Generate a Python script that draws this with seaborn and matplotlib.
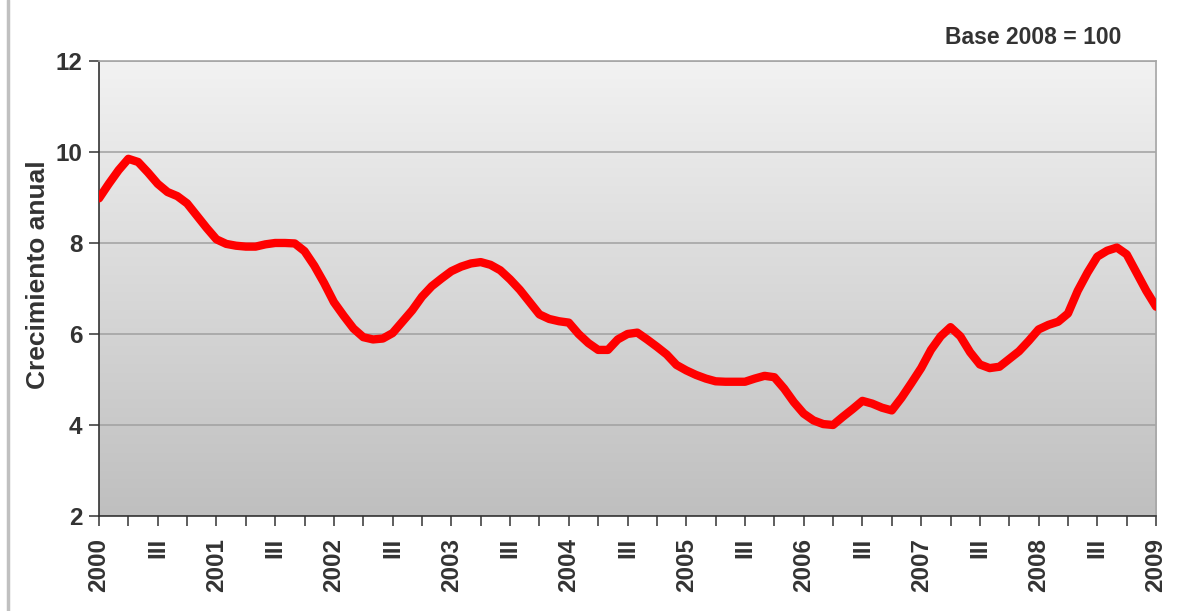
import numpy as np
import pandas as pd
import matplotlib
matplotlib.use("Agg")
import matplotlib.pyplot as plt
import seaborn as sns
from matplotlib.lines import Line2D

# Monthly annual growth rate (%), January 2000 to January 2009
y2000 = [8.98, 9.30, 9.60, 9.85, 9.78, 9.55, 9.30, 9.12, 9.03, 8.87, 8.60, 8.33]
y2001 = [8.08, 7.98, 7.94, 7.92, 7.92, 7.97, 8.00, 8.00, 7.99, 7.82, 7.50, 7.12]
y2002 = [6.70, 6.40, 6.12, 5.93, 5.88, 5.90, 6.02, 6.27, 6.52, 6.82, 7.05, 7.22]
y2003 = [7.38, 7.48, 7.55, 7.58, 7.52, 7.40, 7.20, 6.97, 6.70, 6.43, 6.33, 6.28]
y2004 = [6.25, 6.00, 5.80, 5.65, 5.65, 5.88, 6.00, 6.03, 5.88, 5.72, 5.55, 5.32]
y2005 = [5.20, 5.10, 5.02, 4.96, 4.95, 4.95, 4.95, 5.02, 5.08, 5.05, 4.80, 4.50]
y2006 = [4.25, 4.10, 4.02, 4.00, 4.18, 4.35, 4.53, 4.47, 4.38, 4.32, 4.60, 4.92]
y2007 = [5.25, 5.65, 5.95, 6.15, 5.95, 5.60, 5.33, 5.25, 5.28, 5.45, 5.62, 5.85]
y2008 = [6.10, 6.20, 6.27, 6.45, 6.95, 7.35, 7.70, 7.83, 7.90, 7.75, 7.35, 6.95]
y2009 = [6.60]

years = list(range(2000, 2010))
quarter_labels = ["", "", "III", ""]

values = y2000 + y2001 + y2002 + y2003 + y2004 + y2005 + y2006 + y2007 + y2008 + y2009
t = years[0] + np.arange(len(values)) / 12.0
df = pd.DataFrame({"t": t, "crecimiento": values})

sns.set_theme(style="white")
plt.rcParams["font.family"] = ["Liberation Sans", "DejaVu Sans"]
plt.rcParams["font.weight"] = "bold"

fig = plt.figure(figsize=(11.8, 6.11), dpi=100)
fig.patch.set_facecolor("white")
ax = fig.add_axes([0.0839, 0.1555, 0.8958, 0.7447])

x0, x1 = years[0], years[-1]
ymin, ymax = 2, 12

# vertical gradient fill of the plot area: darker at the bottom, light at the top
grad = np.linspace(0, 1, 256).reshape(-1, 1)
cmap = matplotlib.colors.LinearSegmentedColormap.from_list("bg", ["#bfbfbf", "#f2f2f2"])
ax.imshow(grad, extent=[x0, x1, ymin, ymax], origin="lower", aspect="auto",
          cmap=cmap, zorder=0, interpolation="bicubic")

ax.yaxis.grid(True, color="#a0a0a0", lw=1.1, zorder=1)
ax.set_axisbelow(True)

sns.lineplot(data=df, x="t", y="crecimiento", ax=ax, color="#ff0000",
             lw=6.0, zorder=3, solid_capstyle="round", solid_joinstyle="round")

ax.set_xlim(x0, x1)
ax.set_ylim(ymin, ymax)

# quarterly ticks; year at Q1, "III" at Q3
xt, xl = [], []
for yr in years:
    for q in range(4):
        pos = yr + q / 4
        if pos > x1:
            break
        xt.append(pos)
        xl.append(str(yr) if q == 0 else quarter_labels[q])
ax.set_xticks(xt)
ax.set_xticklabels(xl, rotation=90, fontsize=17.5, fontweight="bold", color="#333333")
ax.set_yticks(np.arange(2, 13, 2))
ax.set_yticklabels([str(v) for v in range(2, 13, 2)], fontsize=17.5,
                   fontweight="bold", color="#333333")
ax.tick_params(axis="both", which="major", direction="out", length=7, width=1.1,
               color="#333333", bottom=True, left=True)
ax.tick_params(axis="x", pad=9)
ax.tick_params(axis="y", pad=5)

for s in ["left", "bottom"]:
    ax.spines[s].set_color("#333333")
    ax.spines[s].set_linewidth(1.2)
for s in ["top", "right"]:
    ax.spines[s].set_color("#a6a6a6")
    ax.spines[s].set_linewidth(1.2)
ax.spines["bottom"].set_zorder(4)

ax.set_xlabel("")
ax.set_ylabel("Crecimiento anual", fontsize=19, fontweight="bold", color="#333333")
ax.yaxis.set_label_coords(-0.046, 0.53)

fig.text(0.9505, 0.938, "Base 2008 = 100", ha="right", va="center",
         fontsize=16.5, fontweight="bold", color="#333333")

# page border line on the left
fig.add_artist(Line2D([0.0065, 0.0065], [0.0, 1.0], transform=fig.transFigure,
                      color="#c0c0c0", lw=2.5))

fig.savefig("out.png", dpi=100, facecolor="white")
